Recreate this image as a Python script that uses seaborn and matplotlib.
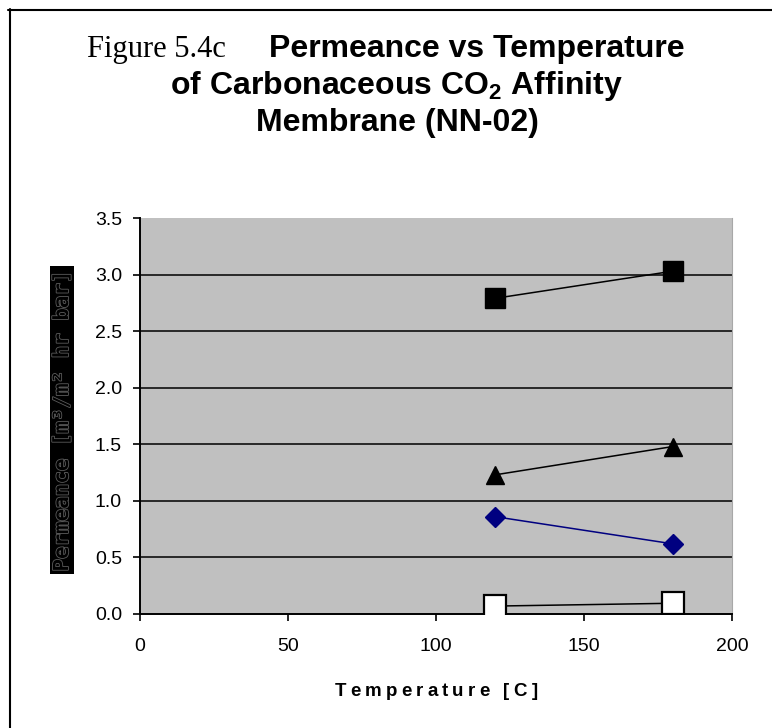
import matplotlib
matplotlib.use("Agg")
import matplotlib.pyplot as plt
import matplotlib.patheffects as pe
from matplotlib.lines import Line2D
import seaborn as sns

# ---- data -------------------------------------------------------------
temperature = [120, 180]
filled_square = [2.79, 3.03]
triangle = [1.23, 1.48]
diamond = [0.86, 0.62]
open_square = [0.07, 0.095]

x_ticks = [0, 50, 100, 150, 200]
y_ticks = [0.0, 0.5, 1.0, 1.5, 2.0, 2.5, 3.0, 3.5]
y_tick_labels = ["0.0", "0.5", "1.0", "1.5", "2.0", "2.5", "3.0", "3.5"]

title_prefix = "Figure 5.4c"
title_lines = ["Permeance vs Temperature",
               r"of Carbonaceous CO$_{\mathbf{2}}$ Affinity",
               "Membrane (NN-02)"]
x_label = "Temperature [C]"
y_label = "Permeance [m³/m² hr bar]"

# ---- style ------------------------------------------------------------
sns.set_theme(style="white")
plt.rcParams["font.family"] = ["Liberation Sans", "DejaVu Sans"]
plt.rcParams["mathtext.fontset"] = "custom"
plt.rcParams["mathtext.rm"] = "Liberation Sans"
plt.rcParams["mathtext.bf"] = "Liberation Sans:bold"

W, H = 772, 728
fig = plt.figure(figsize=(W / 100, H / 100), dpi=100)
fig.patch.set_facecolor("white")

ax = fig.add_axes([140 / W, 1 - 614 / H, 592 / W, 396 / H])
ax.set_facecolor("#c0c0c0")

series = [
    (filled_square, dict(marker="s", ms=14, mfc="black", mec="black", mew=1.0, color="black")),
    (triangle, dict(marker="^", ms=13, mfc="black", mec="black", mew=1.0, color="black")),
    (diamond, dict(marker="D", ms=10, mfc="#000080", mec="#000080", mew=1.0, color="#000080")),
    (open_square, dict(marker="s", ms=16, mfc="white", mec="black", mew=1.6, color="black")),
]
for values, kw in series:
    sns.lineplot(x=temperature, y=values, ax=ax, lw=1.1, zorder=3, **kw)

ax.set_xlim(0, 200)
ax.set_ylim(0, 3.5)
ax.set_xticks(x_ticks)
ax.set_yticks(y_ticks)
ax.set_yticklabels(y_tick_labels)
ax.set_xlabel("")
ax.set_ylabel("")

ax.yaxis.grid(True, color="black", lw=1.1)
ax.xaxis.grid(False)
ax.set_axisbelow(True)
ax.yaxis.get_gridlines()[-1].set_visible(False)
ax.yaxis.get_gridlines()[0].set_visible(False)

for side in ("left", "bottom"):
    ax.spines[side].set_color("black")
    ax.spines[side].set_linewidth(1.4)
ax.spines["top"].set_visible(False)
ax.spines["right"].set_color("#a8a8a8")
ax.spines["right"].set_linewidth(0.8)

ax.tick_params(axis="both", which="major", direction="out", length=5, width=1.2,
               color="black", labelsize=14, labelcolor="black",
               bottom=True, left=True)
ax.tick_params(axis="x", pad=12)
ax.tick_params(axis="y", pad=8)

# ---- titles -----------------------------------------------------------
fig.text(87 / W, 1 - 57 / H, title_prefix, family="Liberation Serif",
         fontsize=22, ha="left", va="baseline", color="black")
fig.text(685 / W, 1 - 57 / H, title_lines[0], fontsize=23, weight="bold",
         ha="right", va="baseline", color="black")
fig.text(396 / W, 1 - 94 / H, title_lines[1], fontsize=23, weight="bold",
         ha="center", va="baseline", color="black")
fig.text(397 / W, 1 - 131 / H, title_lines[2], fontsize=23, weight="bold",
         ha="center", va="baseline", color="black")

# ---- y label: outlined glyphs on a black band ------------------------
fig.text(62 / W, 1 - 420 / H, y_label, rotation=90, family="DejaVu Sans Mono",
         weight="bold", fontsize=15, color="black", ha="center", va="center",
         bbox=dict(boxstyle="square,pad=0.1", fc="black", ec="none"),
         path_effects=[pe.withStroke(linewidth=1.2, foreground="#5c5c5c")])

# ---- x label with letter spacing -------------------------------------
def spaced_text(s, cx, base_y, gap, **kw):
    renderer = fig.canvas.get_renderer()
    widths = []
    for ch in s:
        if ch == " ":
            widths.append(0.278 * kw["fontsize"] * 100 / 72)
            continue
        t = fig.text(0, 0, ch, **kw)
        widths.append(t.get_window_extent(renderer).width)
        t.remove()
    total = sum(widths) + gap * (len(s) - 1)
    x = cx - total / 2
    for ch, w in zip(s, widths):
        if ch != " ":
            fig.text(x / W, 1 - base_y / H, ch, ha="left", va="baseline", **kw)
        x += w + gap

spaced_text(x_label, 436, 696, 4.2, fontsize=13.5, weight="bold", color="black")

# ---- outer frame (top and left edges) --------------------------------
fig.add_artist(Line2D([8 / W, 1.0], [1 - 10 / H, 1 - 10 / H], transform=fig.transFigure,
                      color="black", lw=1.5))
fig.add_artist(Line2D([9.5 / W, 9.5 / W], [0.0, 1 - 9 / H], transform=fig.transFigure,
                      color="black", lw=1.5))

fig.savefig("out.png", dpi=100)
